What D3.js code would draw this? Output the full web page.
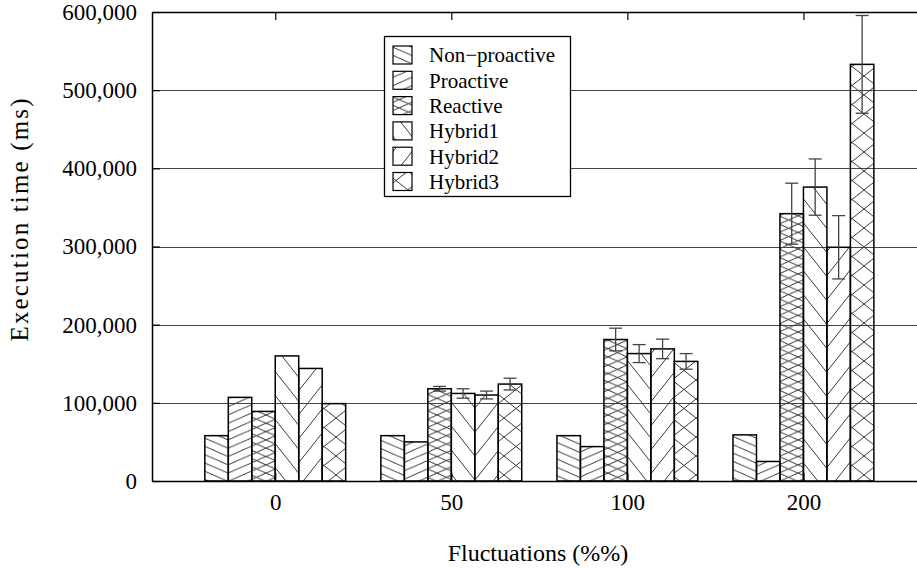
<!DOCTYPE html>
<html lang="en">
<head>
<meta charset="utf-8">
<title>execution time vs fluctuations</title>
<style>
html,body {padding:0; margin:0; background:#fff;}
svg text {font-family:"Liberation Serif","DejaVu Serif",serif; fill:#000;}
</style>
<script src="https://d3js.org/d3.v7.min.js"></script>
</head>
<body>
<script>
// fluctuation levels on the x axis
var groups = ['0', '50', '100', '200']
var seriesNames = ['Non\u2212proactive', 'Proactive', 'Reactive', 'Hybrid1', 'Hybrid2', 'Hybrid3']

// execution time (ms), one value per fluctuation level
var nonProactive = [58000, 58000, 58000, 59000]
var proactive    = [107000, 50000, 44000, 25000]
var reactive     = [89000, 118000, 181000, 342000]
var hybrid1      = [160000, 112000, 163000, 376000]
var hybrid2      = [144000, 110000, 169000, 299000]
var hybrid3      = [99000, 124000, 153000, 533000]

// error bar half widths (0 = none drawn)
var nonProactiveErr = [0, 0, 0, 0]
var proactiveErr    = [0, 0, 0, 0]
var reactiveErr     = [0, 3000, 14500, 39000]
var hybrid1Err      = [0, 6000, 11500, 36000]
var hybrid2Err      = [0, 5000, 12500, 40500]
var hybrid3Err      = [0, 7500, 10000, 62500]

var yTicks = [0, 100000, 200000, 300000, 400000, 500000, 600000]

var values = [nonProactive, proactive, reactive, hybrid1, hybrid2, hybrid3]
var errs = [nonProactiveErr, proactiveErr, reactiveErr, hybrid1Err, hybrid2Err, hybrid3Err]

var W = 917, H = 569
var m = {left: 152, right: 917, top: 12, bottom: 481}

var svg = d3.select('body').append('svg')
  .attr('width', W).attr('height', H)
  .attr('viewBox', `0 0 ${W} ${H}`)

// x: group index as a continuous axis (the plot is cut at the right)
var x = d3.scaleLinear().domain([-0.7, 3.645]).range([m.left, m.right])
var y = d3.scaleLinear().domain([0, 600000]).range([m.bottom, m.top])
var groupW = x(1) - x(0)
var barW = groupW * 0.8 / seriesNames.length

// hatch patterns, [slope dir, tile w, tile h] per family
var hatch = [
  [['\\', 19, 8.3]],
  [['/', 19, 8.3]],
  [['\\', 19, 8.3], ['/', 19, 8.3]],
  [['\\', 19, 24]],
  [['/', 19, 24]],
  [['\\', 24, 19], ['/', 24, 19]]
]
var defs = svg.append('defs')
hatch.forEach(function(fams, i) {
  var tw = fams[0][1], th = fams[0][2]
  var p = defs.append('pattern')
    .attr('id', 'pat' + i)
    .attr('patternUnits', 'userSpaceOnUse')
    .attr('width', tw).attr('height', th)
  fams.forEach(function(f) {
    var d
    if (f[0] == '\\') {
      d = `M${-tw},${-th}L${2*tw},${2*th}M0,${-th}L${2*tw},${th}M${-tw},0L${tw},${2*th}`
    } else {
      d = `M${-tw},${2*th}L${2*tw},${-th}M0,${2*th}L${2*tw},0M${-tw},${th}L${tw},${-th}`
    }
    p.append('path').attr('d', d).attr('stroke', '#3a3a3a').attr('stroke-width', 1).attr('fill', 'none')
  })
})

// grid
svg.append('g').selectAll('line').data(yTicks.slice(1, -1)).join('line')
  .attr('x1', m.left).attr('x2', m.right)
  .attr('y1', function(d) { return Math.round(y(d)) + 0.5 })
  .attr('y2', function(d) { return Math.round(y(d)) + 0.5 })
  .attr('stroke', '#444').attr('stroke-width', 1)

// bars
var bars = []
values.forEach(function(arr, s) {
  arr.forEach(function(v, g) {
    bars.push({s: s, g: g, v: v, e: errs[s][g]})
  })
})
var bx = function(d) { return x(d.g) + (d.s - 3) * barW }

svg.append('g').selectAll('rect').data(bars).join('rect')
  .attr('x', bx)
  .attr('y', function(d) { return y(d.v) })
  .attr('width', barW)
  .attr('height', function(d) { return y(0) - y(d.v) })
  .attr('fill', function(d) { return 'url(#pat' + d.s + ')' })
  .attr('stroke', '#000').attr('stroke-width', 1.5)

// error bars
var eb = svg.append('g').attr('stroke', '#444').attr('stroke-width', 1.3)
bars.filter(function(d) { return d.e > 0 }).forEach(function(d) {
  var cx = bx(d) + barW / 2
  eb.append('line').attr('x1', cx).attr('x2', cx).attr('y1', y(d.v + d.e)).attr('y2', y(d.v - d.e))
  eb.append('line').attr('x1', cx - 6.5).attr('x2', cx + 6.5).attr('y1', y(d.v + d.e)).attr('y2', y(d.v + d.e))
  eb.append('line').attr('x1', cx - 6.5).attr('x2', cx + 6.5).attr('y1', y(d.v - d.e)).attr('y2', y(d.v - d.e))
})

// axes
var yAxis = d3.axisLeft(y).tickValues(yTicks).tickFormat(d3.format(',')).tickSize(-8).tickSizeOuter(0).tickPadding(15)
var yg = svg.append('g').attr('transform', `translate(${m.left},0)`).call(yAxis)
var xAxis = d3.axisBottom(x).tickValues(d3.range(groups.length)).tickFormat(function(i) { return groups[i] })
  .tickSize(-8).tickSizeOuter(0).tickPadding(13)
var xg = svg.append('g').attr('transform', `translate(0,${m.bottom})`).call(xAxis)
var xTop = d3.axisTop(x).tickValues(d3.range(groups.length)).tickFormat('').tickSize(-8).tickSizeOuter(0)
var tg = svg.append('g').attr('transform', `translate(0,${m.top})`).call(xTop)
;[yg, xg, tg].forEach(function(g) {
  g.selectAll('path.domain').attr('stroke', '#000').attr('stroke-width', 1.5)
  g.selectAll('.tick line').attr('stroke', '#000').attr('stroke-width', 1.2)
  g.selectAll('text').attr('font-size', 23).attr('font-family', '"Liberation Serif", serif').attr('fill', '#000')
})

// axis titles
svg.append('text')
  .attr('transform', 'translate(28,220) rotate(-90)')
  .attr('text-anchor', 'middle')
  .attr('font-size', 25)
  .attr('textLength', 243).attr('lengthAdjust', 'spacing')
  .text('Execution time (ms)')
svg.append('text')
  .attr('x', 538).attr('y', 561)
  .attr('text-anchor', 'middle')
  .attr('font-size', 24)
  .text('Fluctuations (%%)')

// legend
var lg = svg.append('g')
lg.append('rect').attr('x', 384.5).attr('y', 36.5).attr('width', 186).attr('height', 160)
  .attr('fill', '#fff').attr('stroke', '#000').attr('stroke-width', 1.3)
seriesNames.forEach(function(name, i) {
  var cy = 55 + i * 25.3
  lg.append('rect').attr('x', 393).attr('y', cy - 9).attr('width', 19).attr('height', 18)
    .attr('fill', 'url(#pat' + i + ')').attr('stroke', '#000').attr('stroke-width', 1.2)
  lg.append('text').attr('x', 429).attr('y', cy).attr('dy', '0.35em')
    .attr('font-size', 21).text(name)
})
</script>
</body>
</html>
